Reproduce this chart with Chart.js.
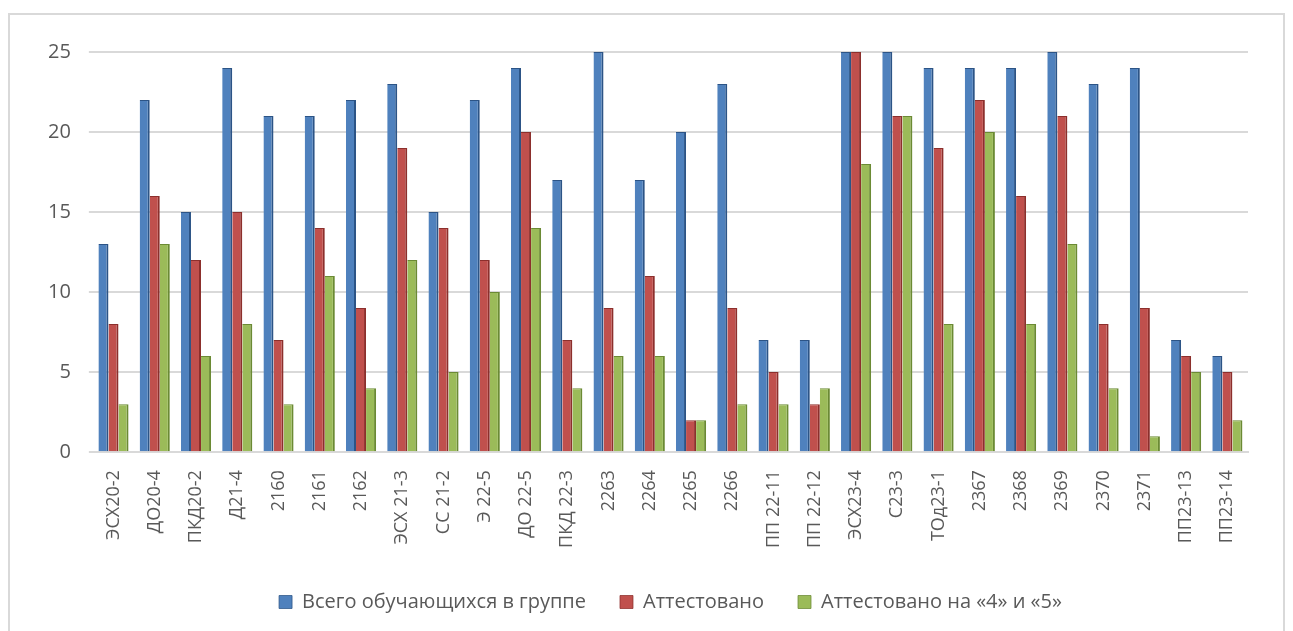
<!DOCTYPE html>
<html lang="ru">
<head>
<meta charset="utf-8">
<title>Результаты аттестации по группам</title>
<script src="https://cdn.jsdelivr.net/npm/chart.js@4.4.1/dist/chart.umd.min.js"></script>
<style>
    html, body { margin: 0; padding: 0; background: #fff; }
    #wrap {
        position: absolute;
        left: 8px;
        top: 13px;
        width: 1277px;
        height: 618px;
        border: 2px solid #d9d9d9;
        border-bottom: none;
        box-sizing: border-box;
    }
</style>
</head>
<body>
<div id="wrap"><canvas id="attChart"></canvas></div>
<script>
// Группы
const groups = ['ЭСХ20-2', 'ДО20-4', 'ПКД20-2', 'Д21-4', '2160', '2161', '2162', 'ЭСХ 21-3', 'СС 21-2', 'Э 22-5',
    'ДО 22-5', 'ПКД 22-3', '2263', '2264', '2265', '2266', 'ПП 22-11', 'ПП 22-12', 'ЭСХ23-4', 'С23-3',
    'ТОд23-1', '2367', '2368', '2369', '2370', '2371', 'ПП23-13', 'ПП23-14'];

// Значения серий
const totalStudents = [13, 22, 15, 24, 21, 21, 22, 23, 15, 22, 24, 17, 25, 17, 20, 23, 7, 7, 25, 25, 24, 24, 24, 25, 23, 24, 7, 6];
const certified     = [8, 16, 12, 15, 7, 14, 9, 19, 14, 12, 20, 7, 9, 11, 2, 9, 5, 3, 25, 21, 19, 22, 16, 21, 8, 9, 6, 5];
const certified45   = [3, 13, 6, 8, 3, 11, 4, 12, 5, 10, 14, 4, 6, 6, 2, 3, 3, 4, 18, 21, 8, 20, 8, 13, 4, 1, 5, 2];

const seriesNames = ['Всего обучающихся в группе', 'Аттестовано', 'Аттестовано на «4» и «5»'];
const yTicks = [0, 5, 10, 15, 20, 25];

const colors = {
    blue: '#4f81bd', blueDark: '#2c5486',
    red: '#c0504d', redDark: '#8c2f2c',
    green: '#9bbb59', greenDark: '#6b8a34',
    grid: '#d9d9d9',
    text: '#595959'
};

function series(label, data, fill, side) {
    return {
        label: label,
        data: data,
        backgroundColor: fill,
        borderColor: side,
        borderWidth: { top: 1, right: 2, bottom: 0, left: 0 },
        borderSkipped: false,
        categoryPercentage: 0.73,
        barPercentage: 1.0
    };
}

Chart.defaults.font.family = '"Open Sans"';
Chart.defaults.color = colors.text;

new Chart(document.getElementById('attChart'), {
    type: 'bar',
    data: {
        labels: groups,
        datasets: [
            series(seriesNames[0], totalStudents, colors.blue, colors.blueDark),
            series(seriesNames[1], certified, colors.red, colors.redDark),
            series(seriesNames[2], certified45, colors.green, colors.greenDark)
        ]
    },
    options: {
        responsive: true,
        maintainAspectRatio: false,
        animation: false,
        layout: { padding: { left: 20, right: 35, top: 37, bottom: 9 } },
        plugins: {
            legend: {
                position: 'bottom',
                fullSize: false,
                labels: {
                    boxWidth: 13,
                    boxHeight: 13,
                    padding: 34,
                    font: { size: 20 },
                    color: colors.text
                }
            },
            tooltip: { enabled: true }
        },
        scales: {
            x: {
                grid: { display: false },
                border: { color: colors.grid, width: 2 },
                ticks: {
                    minRotation: 90,
                    maxRotation: 90,
                    autoSkip: false,
                    padding: 10,
                    font: { size: 18 },
                    color: colors.text
                }
            },
            y: {
                min: 0,
                max: 25,
                afterBuildTicks: axis => { axis.ticks = yTicks.map(v => ({ value: v })); },
                grid: { color: colors.grid, lineWidth: 2, drawTicks: true, tickLength: 4 },
                border: { display: false },
                ticks: {
                    padding: 18,
                    font: { size: 20 },
                    color: colors.text
                }
            }
        }
    }
});
</script>
</body>
</html>
